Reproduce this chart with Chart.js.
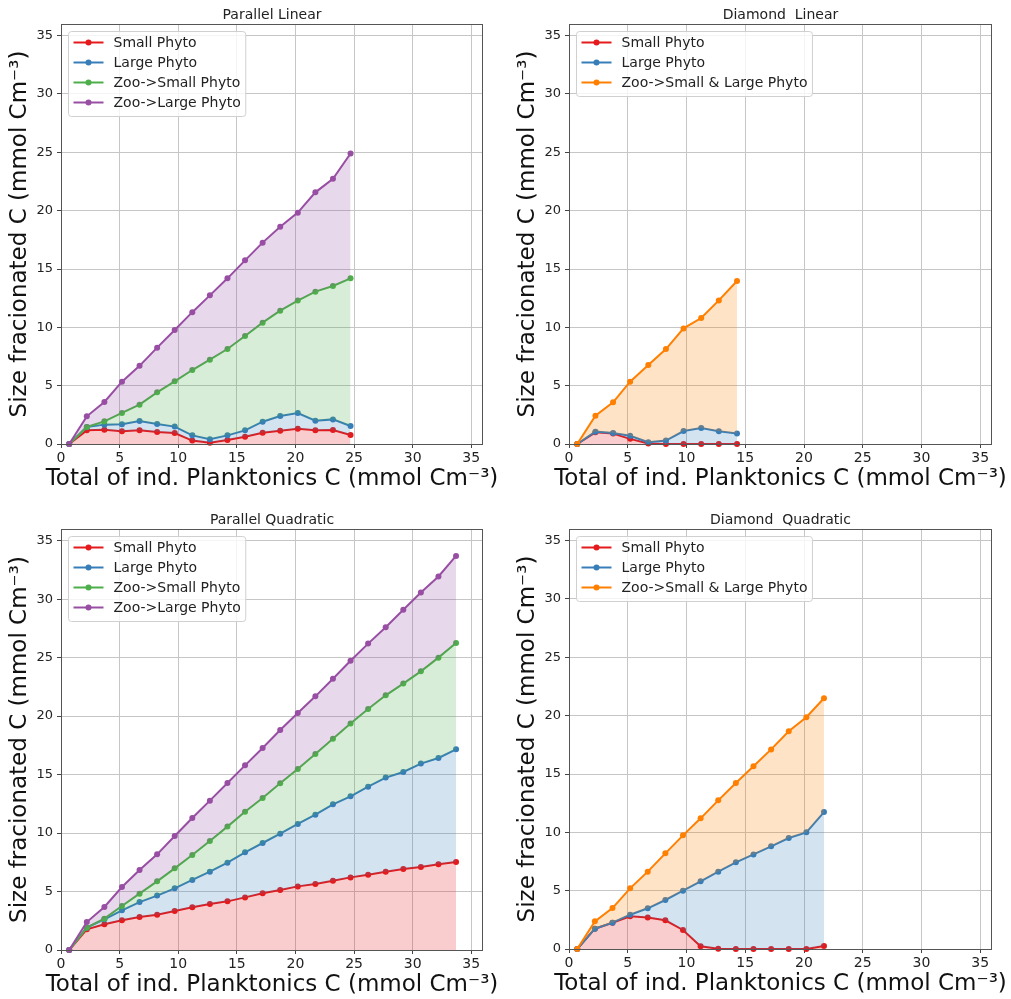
<!DOCTYPE html>
<html>
<head>
<meta charset="utf-8">
<script src="https://cdn.jsdelivr.net/npm/chart.js@4.4.1/dist/chart.umd.min.js"></script>
<style>
  html, body { margin: 0; padding: 0; background: #fff; }
  #fig { position: relative; width: 1011px; height: 999px; overflow: hidden; }
  canvas { position: absolute; }
</style>
</head>
<body>
<div id="fig">
  <canvas id="parLin" width="505" height="499" style="left:0;top:0"></canvas>
  <canvas id="diaLin" width="506" height="499" style="left:505px;top:0"></canvas>
  <canvas id="parQuad" width="505" height="500" style="left:0;top:499px"></canvas>
  <canvas id="diaQuad" width="506" height="500" style="left:505px;top:499px"></canvas>
</div>
<script>
"use strict";

// ---- data ----
// x = total of ind. planktonics C; each band array is the upper edge of that band in the stack
const X_PAR_LIN = [0.7, 2.2, 3.7, 5.2, 6.7, 8.2, 9.7, 11.2, 12.7, 14.2, 15.7, 17.2, 18.7, 20.2, 21.7, 23.2, 24.7];
const PAR_LIN_SMALL = [0, 1.17, 1.23, 1.09, 1.17, 1.03, 0.94, 0.29, 0.11, 0.34, 0.63, 0.97, 1.14, 1.31, 1.17, 1.2, 0.77];
const PAR_LIN_LARGE = [0, 1.46, 1.66, 1.69, 1.97, 1.71, 1.49, 0.74, 0.4, 0.74, 1.17, 1.91, 2.4, 2.66, 2.0, 2.11, 1.54];
const PAR_LIN_ZOO_S = [0, 1.46, 1.94, 2.66, 3.37, 4.43, 5.37, 6.34, 7.23, 8.14, 9.26, 10.4, 11.43, 12.29, 13.06, 13.54, 14.2];
const PAR_LIN_ZOO_L = [0, 2.37, 3.6, 5.34, 6.7, 8.26, 9.77, 11.3, 12.74, 14.2, 15.74, 17.26, 18.63, 19.83, 21.57, 22.74, 24.9];

const X_DIA_LIN = [0.7, 2.25, 3.75, 5.2, 6.75, 8.25, 9.75, 11.25, 12.75, 14.3];
const DIA_LIN_SMALL = [0, 1.0, 0.89, 0.44, 0.04, 0, 0, 0, 0, 0];
const DIA_LIN_LARGE = [0, 1.06, 0.94, 0.7, 0.15, 0.29, 1.11, 1.37, 1.09, 0.91];
const DIA_LIN_ZOO = [0, 2.43, 3.57, 5.34, 6.77, 8.14, 9.91, 10.8, 12.31, 13.97];

const X_PAR_QUAD = [0.7, 2.2, 3.7, 5.2, 6.7, 8.2, 9.7, 11.2, 12.7, 14.2, 15.7, 17.2, 18.7, 20.2, 21.7, 23.2, 24.7, 26.2, 27.7, 29.2, 30.7, 32.2, 33.7];
const PAR_QUAD_SMALL = [0, 1.77, 2.2, 2.54, 2.82, 3.02, 3.34, 3.65, 3.93, 4.16, 4.5, 4.85, 5.13, 5.44, 5.64, 5.93, 6.21, 6.44, 6.7, 6.93, 7.1, 7.33, 7.53];
const PAR_QUAD_LARGE = [0, 1.91, 2.62, 3.39, 4.1, 4.65, 5.27, 5.99, 6.7, 7.47, 8.35, 9.15, 9.95, 10.78, 11.57, 12.46, 13.14, 13.97, 14.74, 15.22, 15.94, 16.42, 17.16];
const PAR_QUAD_ZOO_S = [0, 1.91, 2.68, 3.76, 4.82, 5.87, 6.98, 8.12, 9.32, 10.55, 11.83, 13.0, 14.25, 15.48, 16.76, 18.07, 19.36, 20.61, 21.78, 22.78, 23.83, 25.0, 26.25];
const PAR_QUAD_ZOO_L = [0, 2.39, 3.68, 5.39, 6.84, 8.18, 9.75, 11.29, 12.77, 14.28, 15.79, 17.27, 18.81, 20.27, 21.69, 23.2, 24.74, 26.2, 27.6, 29.1, 30.57, 31.94, 33.7];

const X_DIA_QUAD = [0.7, 2.2, 3.7, 5.2, 6.7, 8.2, 9.7, 11.2, 12.7, 14.2, 15.7, 17.2, 18.7, 20.2, 21.7];
const DIA_QUAD_SMALL = [0, 1.74, 2.25, 2.8, 2.69, 2.46, 1.63, 0.23, 0.02, 0, 0, 0, 0, 0, 0.26];
const DIA_QUAD_LARGE = [0, 1.74, 2.26, 2.94, 3.49, 4.2, 5.0, 5.8, 6.63, 7.43, 8.11, 8.8, 9.51, 10.0, 11.74];
const DIA_QUAD_ZOO = [0, 2.37, 3.51, 5.2, 6.63, 8.2, 9.74, 11.2, 12.74, 14.23, 15.66, 17.11, 18.66, 19.86, 21.49];

const AXIS_TICKS = [0, 5, 10, 15, 20, 25, 30, 35];
const X_LABEL = "Total of ind. Planktonics C (mmol Cm⁻³)";
const Y_LABEL = "Size fracionated C (mmol Cm⁻³)";

// ---- style ----
const RED = [228, 26, 28], BLUE = [55, 126, 184], GREEN = [77, 175, 74], PURPLE = [152, 78, 163], ORANGE = [255, 127, 0];
const rgb = (c, a = 1) => `rgba(${c[0]},${c[1]},${c[2]},${a})`;
const FONT = "'DejaVu Sans', 'Liberation Sans', sans-serif";
const GRID = "#c6c6c6";

Chart.defaults.font.family = FONT;
Chart.defaults.color = "#222";

function series(label, color, xs, ys, i) {
  return {
    label,
    data: xs.map((x, k) => ({ x, y: ys[k] })),
    borderColor: rgb(color),
    backgroundColor: rgb(color, 0.22),
    pointBackgroundColor: rgb(color),
    pointBorderColor: rgb(color),
    borderWidth: 2,
    pointRadius: 3,
    pointBorderWidth: 0,
    tension: 0,
    fill: i === 0 ? "origin" : "-1",
    order: -i,
    clip: false,
  };
}

// spines, title, x label (drawn without maxWidth so it may overhang), legend box
const decor = {
  id: "decor",
  afterDatasetsDraw(chart) {
    const { ctx, chartArea: a } = chart;
    ctx.save();
    ctx.strokeStyle = "#555";
    ctx.lineWidth = 1;
    ctx.strokeRect(a.left + 0.5, a.top + 0.5, a.right - a.left - 1, a.bottom - a.top);
    ctx.restore();
  },
  afterDraw(chart, args, opts) {
    const { ctx, chartArea: a } = chart;
    const cx = (a.left + a.right) / 2;
    ctx.save();
    ctx.textAlign = "center";
    ctx.textBaseline = "alphabetic";
    ctx.fillStyle = "#111";
    ctx.font = `23px ${FONT}`;
    ctx.fillText(X_LABEL, cx, a.bottom + 41);

    ctx.font = `14px ${FONT}`;
    ctx.fillStyle = "#222";
    ctx.fillText(opts.title, cx, a.top - 5);

    // legend
    const sets = chart.data.datasets;
    const w = Math.max(...sets.map((d) => ctx.measureText(d.label).width));
    const x0 = a.left + 7.5, y0 = a.top + 7.5;
    const bw = 45 + w + 5, bh = 11 + (sets.length - 1) * 20 + 14;
    ctx.beginPath();
    ctx.roundRect(x0, y0, bw, bh, 3);
    ctx.fillStyle = "rgba(255,255,255,0.8)";
    ctx.fill();
    ctx.strokeStyle = "#d0d0d0";
    ctx.lineWidth = 1;
    ctx.stroke();
    ctx.textAlign = "left";
    ctx.textBaseline = "middle";
    sets.forEach((d, i) => {
      const y = y0 + 11 + i * 20;
      ctx.strokeStyle = d.borderColor;
      ctx.lineWidth = 2;
      ctx.beginPath();
      ctx.moveTo(x0 + 5, y);
      ctx.lineTo(x0 + 35, y);
      ctx.stroke();
      ctx.fillStyle = d.borderColor;
      ctx.beginPath();
      ctx.arc(x0 + 20, y, 3, 0, Math.PI * 2);
      ctx.fill();
      ctx.fillStyle = "#222";
      ctx.fillText(d.label, x0 + 45, y + 1);
    });
    ctx.restore();
  },
};

function panel(id, title, datasets, lay) {
  const grid = { color: GRID, lineWidth: 1, tickColor: "#444", tickLength: 4, tickWidth: 1 };
  const keepTicks = (s) => { s.ticks = AXIS_TICKS.map((v) => ({ value: v })); };
  return new Chart(document.getElementById(id), {
    type: "line",
    data: { datasets },
    options: {
      responsive: false,
      maintainAspectRatio: false,
      animation: false,
      events: [],
      layout: { padding: { top: lay.top, right: lay.right, left: 0, bottom: 0 } },
      plugins: { legend: { display: false }, tooltip: { enabled: false }, decor: { title } },
      scales: {
        x: {
          type: "linear", min: 0, max: 36,
          grid, border: { display: false },
          afterBuildTicks: keepTicks,
          ticks: { padding: 2, color: "#222", font: { size: 14 }, maxRotation: 0, autoSkip: false },
          title: { display: false },
          afterFit: (s) => { s.height = lay.xh; },
        },
        y: {
          type: "linear", min: 0, max: 36,
          grid, border: { display: false },
          afterBuildTicks: keepTicks,
          ticks: { padding: 4, color: "#222", font: { size: 13 }, autoSkip: false },
          title: { display: true, text: Y_LABEL, font: { size: 23 }, color: "#111", padding: { top: lay.yTitle, bottom: 0 } },
          afterFit: (s) => { s.width = lay.yw; },
        },
      },
    },
    plugins: [decor],
  });
}

panel("parLin", "Parallel Linear", [
  series("Small Phyto", RED, X_PAR_LIN, PAR_LIN_SMALL, 0),
  series("Large Phyto", BLUE, X_PAR_LIN, PAR_LIN_LARGE, 1),
  series("Zoo->Small Phyto", GREEN, X_PAR_LIN, PAR_LIN_ZOO_S, 2),
  series("Zoo->Large Phyto", PURPLE, X_PAR_LIN, PAR_LIN_ZOO_L, 3),
], { top: 24, right: 22, xh: 55, yw: 61, yTitle: 6 });

panel("diaLin", "Diamond  Linear", [
  series("Small Phyto", RED, X_DIA_LIN, DIA_LIN_SMALL, 0),
  series("Large Phyto", BLUE, X_DIA_LIN, DIA_LIN_LARGE, 1),
  series("Zoo->Small & Large Phyto", ORANGE, X_DIA_LIN, DIA_LIN_ZOO, 2),
], { top: 24, right: 19, xh: 55, yw: 64, yTitle: 9 });

panel("parQuad", "Parallel Quadratic", [
  series("Small Phyto", RED, X_PAR_QUAD, PAR_QUAD_SMALL, 0),
  series("Large Phyto", BLUE, X_PAR_QUAD, PAR_QUAD_LARGE, 1),
  series("Zoo->Small Phyto", GREEN, X_PAR_QUAD, PAR_QUAD_ZOO_S, 2),
  series("Zoo->Large Phyto", PURPLE, X_PAR_QUAD, PAR_QUAD_ZOO_L, 3),
], { top: 30, right: 22, xh: 49, yw: 61, yTitle: 6 });

panel("diaQuad", "Diamond  Quadratic", [
  series("Small Phyto", RED, X_DIA_QUAD, DIA_QUAD_SMALL, 0),
  series("Large Phyto", BLUE, X_DIA_QUAD, DIA_QUAD_LARGE, 1),
  series("Zoo->Small & Large Phyto", ORANGE, X_DIA_QUAD, DIA_QUAD_ZOO, 2),
], { top: 30, right: 19, xh: 50, yw: 64, yTitle: 9 });
</script>
</body>
</html>
